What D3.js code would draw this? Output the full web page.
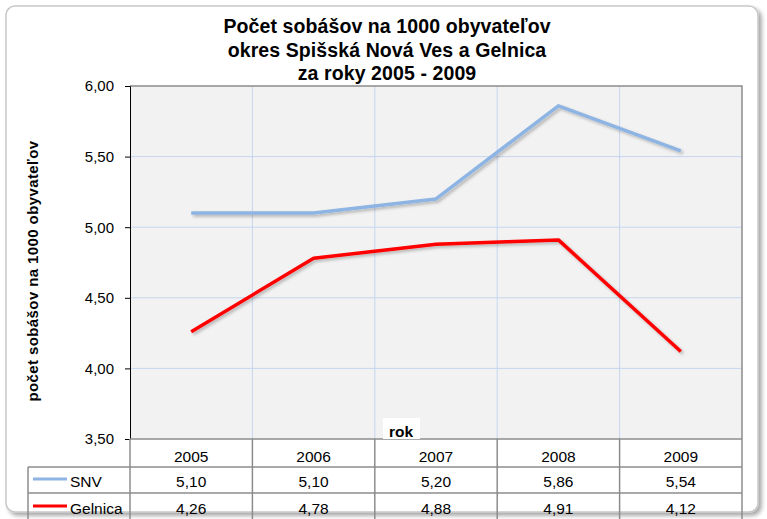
<!DOCTYPE html>
<html>
<head>
<meta charset="utf-8">
<script src="https://cdn.jsdelivr.net/npm/d3@7"></script>
<style>
  body { margin: 0; background: #fff; }
  text { font-family: "Liberation Sans", Arial, sans-serif; }
</style>
</head>
<body>
<svg id="chart" width="767" height="519"></svg>
<script>
// data
const years = ['2005', '2006', '2007', '2008', '2009']
const snv = [5.10, 5.10, 5.20, 5.86, 5.54]
const gelnica = [4.26, 4.78, 4.88, 4.91, 4.12]
const yTicks = [3.5, 4.0, 4.5, 5.0, 5.5, 6.0]
const seriesNames = ['SNV', 'Gelnica']
const seriesColors = ['#8db4e2', '#ff0000']

const svg = d3.select('#chart')
const fmt = d => d.toFixed(2).replace('.', ',')

const plotLeft = 130, plotRight = 742, plotTop = 86, plotBottom = 439

// outer frame with shadow
const defs = svg.append('defs')
const sh = defs.append('filter').attr('id', 'shadow').attr('x', '-5%').attr('y', '-5%').attr('width', '110%').attr('height', '110%')
sh.append('feDropShadow').attr('dx', 3).attr('dy', 3).attr('stdDeviation', 2).attr('flood-color', '#000').attr('flood-opacity', 0.35)
const lsh = defs.append('filter').attr('id', 'lshadow').attr('x', '-10%').attr('y', '-10%').attr('width', '120%').attr('height', '120%')
lsh.append('feDropShadow').attr('dx', 2).attr('dy', 2).attr('stdDeviation', 1.5).attr('flood-color', '#000').attr('flood-opacity', 0.25)

svg.append('rect')
  .attr('x', 6).attr('y', 6).attr('width', 752).attr('height', 506)
  .attr('rx', 9)
  .attr('fill', '#fff')
  .attr('stroke', '#c8c8c8')
  .attr('stroke-width', 1.5)
  .attr('filter', 'url(#shadow)')

// title
const title = ['Počet sobášov na 1000 obyvateľov', 'okres Spišská Nová Ves a Gelnica', 'za roky 2005 - 2009']
svg.append('g').selectAll('text')
  .data(title)
  .enter()
  .append('text')
  .attr('x', 387)
  .attr('y', (d, i) => 33 + i * 23.5)
  .attr('text-anchor', 'middle')
  .attr('font-size', 19.5)
  .attr('font-weight', 'bold')
  .attr('letter-spacing', 0.1)
  .text(d => d)

// scales
const xScale = d3.scaleBand().domain(years).range([plotLeft, plotRight])
const yScale = d3.scaleLinear().domain([3.5, 6.0]).range([plotBottom, plotTop])

// plot background
svg.append('rect')
  .attr('x', plotLeft).attr('y', plotTop)
  .attr('width', plotRight - plotLeft).attr('height', plotBottom - plotTop)
  .attr('fill', '#f2f2f2')

// grid
const gridColor = '#c5d5f0'
svg.append('g')
  .selectAll('line')
  .data(yTicks.slice(1, -1))
  .enter()
  .append('line')
  .attr('x1', plotLeft).attr('x2', plotRight)
  .attr('y1', d => yScale(d)).attr('y2', d => yScale(d))
  .attr('stroke', gridColor)
svg.append('g')
  .selectAll('line')
  .data(years.slice(1))
  .enter()
  .append('line')
  .attr('x1', d => xScale(d)).attr('x2', d => xScale(d))
  .attr('y1', plotTop).attr('y2', plotBottom)
  .attr('stroke', gridColor)

// plot border top/right
svg.append('path')
  .attr('d', `M${plotLeft},${plotTop}H${plotRight}V${plotBottom}`)
  .attr('fill', 'none')
  .attr('stroke', '#8c8c8c')
  .attr('stroke-width', 1.5)

// y axis
const yAxis = svg.append('g')
  .attr('transform', `translate(${plotLeft},0)`)
  .call(d3.axisLeft(yScale).tickValues(yTicks).tickFormat(fmt).tickSize(5).tickPadding(11))
yAxis.select('.domain').attr('stroke', '#000')
yAxis.selectAll('text').attr('font-size', 15).attr('fill', '#000').attr('font-family', '"Liberation Sans", Arial, sans-serif')

svg.append('text')
  .attr('transform', 'translate(38,271) rotate(-90)')
  .attr('text-anchor', 'middle')
  .attr('font-size', 15)
  .attr('font-weight', 'bold')
  .attr('letter-spacing', 0.4)
  .text('počet sobášov na 1000 obyvateľov')

// lines
const line = d3.line()
  .x((d, i) => xScale(years[i]) + xScale.bandwidth() / 2)
  .y(d => yScale(d))

;[snv, gelnica].forEach((s, k) => {
  svg.append('path')
    .datum(s)
    .attr('d', line)
    .attr('fill', 'none')
    .attr('stroke', seriesColors[k])
    .attr('stroke-width', 3.5)
    .attr('stroke-linejoin', 'round')
    .attr('filter', 'url(#lshadow)')
})

// data table
const rowY = [439, 467, 493]
const rowText = [462, 487, 514]
const tcol = '#8c8c8c'
const tbl = svg.append('g')
// horizontal lines
tbl.append('line').attr('x1', plotLeft).attr('x2', plotRight).attr('y1', rowY[0]).attr('y2', rowY[0]).attr('stroke', tcol).attr('stroke-width', 1.5)
tbl.append('line').attr('x1', 28).attr('x2', plotRight).attr('y1', rowY[1]).attr('y2', rowY[1]).attr('stroke', tcol).attr('stroke-width', 1.5)
tbl.append('line').attr('x1', 28).attr('x2', plotRight).attr('y1', rowY[2]).attr('y2', rowY[2]).attr('stroke', tcol).attr('stroke-width', 1.5)
// vertical lines
tbl.append('line').attr('x1', 28).attr('x2', 28).attr('y1', rowY[1]).attr('y2', 519).attr('stroke', tcol).attr('stroke-width', 1.5)
tbl.selectAll('.vline')
  .data(years.concat(['end']))
  .enter()
  .append('line')
  .attr('class', 'vline')
  .attr('x1', d => d === 'end' ? plotRight : xScale(d))
  .attr('x2', d => d === 'end' ? plotRight : xScale(d))
  .attr('y1', rowY[0]).attr('y2', 519)
  .attr('stroke', tcol).attr('stroke-width', 1.5)

// header years
tbl.selectAll('.yr')
  .data(years)
  .enter()
  .append('text')
  .attr('x', d => xScale(d) + xScale.bandwidth() / 2)
  .attr('y', rowText[0])
  .attr('text-anchor', 'middle')
  .attr('font-size', 15.5)
  .text(d => d)

// rows
;[snv, gelnica].forEach((s, k) => {
  const y = rowText[k + 1]
  tbl.append('line')
    .attr('x1', 33).attr('x2', 67)
    .attr('y1', y - 8).attr('y2', y - 8)
    .attr('stroke', seriesColors[k]).attr('stroke-width', 3)
  tbl.append('text')
    .attr('x', 70).attr('y', y)
    .attr('font-size', 15.5)
    .text(seriesNames[k])
  tbl.selectAll('.v' + k)
    .data(s)
    .enter()
    .append('text')
    .attr('x', (d, i) => xScale(years[i]) + xScale.bandwidth() / 2)
    .attr('y', y)
    .attr('text-anchor', 'middle')
    .attr('font-size', 15.5)
    .text(d => fmt(d))
})

// axis title "rok"
svg.append('rect')
  .attr('x', 383).attr('y', 418).attr('width', 37).attr('height', 21)
  .attr('fill', '#fff')
svg.append('text')
  .attr('x', 401).attr('y', 437)
  .attr('text-anchor', 'middle')
  .attr('font-size', 15.5)
  .attr('font-weight', 'bold')
  .text('rok')
</script>
</body>
</html>
